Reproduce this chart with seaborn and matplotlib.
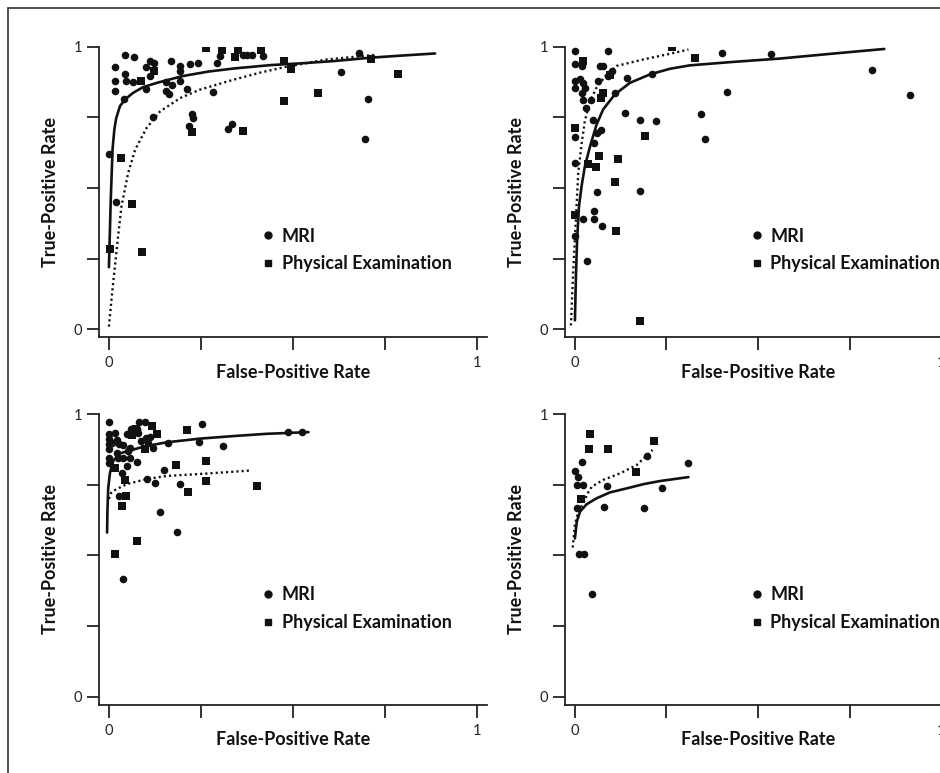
import matplotlib
matplotlib.use("Agg")
import matplotlib.pyplot as plt
from matplotlib.lines import Line2D
import seaborn as sns

# panel A (top left)
a_mri_x = [0.0, 0.020, 0.016, 0.043, 0.069, 0.016, 0.016, 0.043, 0.046, 0.066, 0.042, 0.101,
           0.111, 0.123, 0.111, 0.102, 0.120, 0.155, 0.170, 0.154, 0.163, 0.168, 0.193, 0.193,
           0.193, 0.211, 0.220, 0.241, 0.294, 0.283, 0.302, 0.365, 0.376, 0.388, 0.419, 0.225,
           0.229, 0.218, 0.323, 0.335, 0.680, 0.630, 0.705, 0.696]
a_mri_y = [0.621, 0.451, 0.929, 0.969, 0.965, 0.878, 0.845, 0.905, 0.878, 0.876, 0.816, 0.929,
           0.949, 0.943, 0.896, 0.849, 0.752, 0.875, 0.866, 0.845, 0.831, 0.949, 0.932, 0.914,
           0.880, 0.852, 0.937, 0.941, 0.941, 0.840, 0.967, 0.971, 0.971, 0.971, 0.967, 0.762,
           0.748, 0.721, 0.709, 0.728, 0.979, 0.910, 0.815, 0.673]
a_pe_x = [0.003, 0.033, 0.064, 0.089, 0.087, 0.123, 0.264, 0.306, 0.350, 0.342, 0.413, 0.227,
          0.363, 0.476, 0.495, 0.476, 0.567, 0.712, 0.785]
a_pe_y = [0.286, 0.605, 0.443, 0.272, 0.879, 0.915, 0.995, 0.987, 0.989, 0.963, 0.987, 0.698,
          0.702, 0.951, 0.921, 0.809, 0.836, 0.956, 0.904]
a_mri_curve_x = [0.0, 0.005, 0.010, 0.015, 0.020, 0.030, 0.045, 0.066, 0.093, 0.13, 0.20, 0.27,
                 0.34, 0.44, 0.52, 0.61, 0.71, 0.80, 0.886]
a_mri_curve_y = [0.22, 0.46, 0.64, 0.71, 0.748, 0.79, 0.815, 0.837, 0.857, 0.872, 0.896, 0.912,
                 0.923, 0.935, 0.941, 0.949, 0.961, 0.969, 0.976]
a_pe_curve_x = [0.0, 0.008, 0.016, 0.025, 0.034, 0.052, 0.071, 0.102, 0.139, 0.193, 0.247, 0.338,
                0.41, 0.478, 0.592, 0.723]
a_pe_curve_y = [0.01, 0.12, 0.22, 0.33, 0.434, 0.552, 0.635, 0.712, 0.771, 0.818, 0.848, 0.883,
                0.908, 0.928, 0.955, 0.971]

# panel B (top right)
b_mri_x = [0.000, 0.091, 0.000, 0.018, 0.068, 0.077, 0.000, 0.000, 0.014, 0.023, 0.027, 0.018,
           0.023, 0.044, 0.029, 0.064, 0.091, 0.109, 0.143, 0.211, 0.138, 0.178, 0.222, 0.050,
           0.000, 0.071, 0.059, 0.053, 0.000, 0.060, 0.178, 0.052, 0.051, 0.023, 0.073, 0.000,
           0.034, 0.402, 0.536, 0.810, 0.915, 0.415, 0.344, 0.354, 0.100]
b_mri_y = [0.985, 0.984, 0.937, 0.932, 0.932, 0.932, 0.878, 0.855, 0.884, 0.872, 0.855, 0.837,
           0.813, 0.810, 0.784, 0.878, 0.896, 0.837, 0.890, 0.904, 0.765, 0.739, 0.738, 0.741,
           0.681, 0.706, 0.693, 0.658, 0.590, 0.487, 0.490, 0.418, 0.390, 0.390, 0.365, 0.330,
           0.241, 0.977, 0.974, 0.918, 0.830, 0.839, 0.762, 0.674, 0.914]
b_pe_x = [0.000, 0.021, 0.264, 0.327, 0.076, 0.070, 0.096, 0.191, 0.066, 0.117, 0.036, 0.057,
          0.109, 0.000, 0.111, 0.178]
b_pe_y = [0.714, 0.949, 1.0, 0.960, 0.836, 0.817, 0.901, 0.683, 0.612, 0.602, 0.584, 0.573,
          0.520, 0.403, 0.348, 0.028]
b_mri_curve_x = [0.0, 0.003, 0.006, 0.011, 0.018, 0.027, 0.041, 0.059, 0.077, 0.109, 0.150, 0.205,
                 0.26, 0.314, 0.43, 0.56, 0.70, 0.845]
b_mri_curve_y = [0.032, 0.198, 0.316, 0.434, 0.505, 0.576, 0.646, 0.724, 0.778, 0.831, 0.872, 0.902,
                 0.922, 0.934, 0.946, 0.958, 0.975, 0.992]
b_pe_curve_x = [-0.011, -0.005, 0.002, 0.009, 0.018, 0.027, 0.041, 0.059, 0.087, 0.114, 0.187,
                0.26, 0.31]
b_pe_curve_y = [0.014, 0.198, 0.375, 0.552, 0.654, 0.737, 0.807, 0.855, 0.902, 0.932, 0.955,
                0.975, 0.99]

# panel C (bottom left)
c_mri_x = [0.0, 0.0, 0.0, 0.0, 0.0, 0.0, 0.0, 0.009, 0.016, 0.021, 0.021, 0.025, 0.028, 0.039,
           0.039, 0.048, 0.060, 0.075, 0.062, 0.057, 0.052, 0.057, 0.048, 0.075, 0.035, 0.082,
           0.098, 0.080, 0.087, 0.102, 0.111, 0.107, 0.120, 0.160, 0.245, 0.252, 0.311, 0.487,
           0.524, 0.104, 0.125, 0.149, 0.193, 0.027, 0.140, 0.186, 0.038]
c_mri_y = [0.971, 0.928, 0.913, 0.893, 0.876, 0.843, 0.827, 0.896, 0.932, 0.908, 0.861, 0.843,
           0.893, 0.890, 0.843, 0.928, 0.947, 0.947, 0.932, 0.879, 0.869, 0.843, 0.817, 0.829,
           0.790, 0.971, 0.971, 0.932, 0.905, 0.914, 0.920, 0.896, 0.879, 0.896, 0.900, 0.965,
           0.888, 0.935, 0.935, 0.769, 0.755, 0.802, 0.752, 0.711, 0.653, 0.584, 0.416]
c_pe_x = [0.074, 0.062, 0.118, 0.130, 0.211, 0.097, 0.016, 0.043, 0.046, 0.035, 0.075, 0.016,
          0.182, 0.265, 0.265, 0.215, 0.401]
c_pe_y = [0.946, 0.925, 0.959, 0.929, 0.943, 0.877, 0.810, 0.767, 0.710, 0.676, 0.551, 0.504,
          0.819, 0.833, 0.763, 0.723, 0.746]
c_mri_curve_x = [-0.005, -0.004, -0.002, 0.003, 0.012, 0.030, 0.052, 0.098, 0.157, 0.247, 0.338,
                 0.428, 0.542]
c_mri_curve_y = [0.581, 0.66, 0.737, 0.793, 0.835, 0.861, 0.869, 0.886, 0.900, 0.913, 0.922,
                 0.930, 0.936]
c_pe_curve_x = [0.0, 0.005, 0.016, 0.048, 0.102, 0.157, 0.247, 0.338, 0.381]
c_pe_curve_y = [0.70, 0.72, 0.731, 0.752, 0.770, 0.781, 0.788, 0.796, 0.800]

# panel D (bottom right)
d_mri_x = [0.000, 0.009, 0.019, 0.005, 0.023, 0.005, 0.087, 0.080, 0.196, 0.237, 0.189, 0.308,
           0.012, 0.025, 0.048]
d_mri_y = [0.799, 0.776, 0.829, 0.748, 0.748, 0.668, 0.747, 0.672, 0.853, 0.740, 0.667, 0.826,
           0.505, 0.505, 0.365]
d_pe_x = [0.041, 0.038, 0.089, 0.215, 0.167, 0.016]
d_pe_y = [0.928, 0.875, 0.875, 0.904, 0.794, 0.700]
d_mri_curve_x = [0.0, 0.005, 0.014, 0.032, 0.059, 0.096, 0.141, 0.187, 0.232, 0.310]
d_mri_curve_y = [0.56, 0.619, 0.655, 0.681, 0.702, 0.723, 0.737, 0.752, 0.763, 0.777]
d_pe_curve_x = [-0.006, 0.0, 0.009, 0.023, 0.035, 0.046, 0.077, 0.123, 0.169, 0.212]
d_pe_curve_y = [0.528, 0.608, 0.655, 0.684, 0.72, 0.743, 0.767, 0.790, 0.820, 0.873]

ticks = [0, 0.25, 0.5, 0.75, 1]
tick_labels = ["0", "", "", "", "1"]
legend_labels = ["MRI", "Physical Examination"]

sns.set_style("ticks")
plt.rcParams["font.family"] = ["Lato", "DejaVu Sans"]
INK = "#111111"


def draw_panel(ax, mri_x, mri_y, pe_x, pe_y, mc_x, mc_y, pc_x, pc_y, leg_x, leg_y):
    sns.lineplot(x=mc_x, y=mc_y, ax=ax, sort=False, estimator=None, color=INK,
                 linewidth=1.9, zorder=2)
    sns.lineplot(x=pc_x, y=pc_y, ax=ax, sort=False, estimator=None, color=INK,
                 linewidth=1.7, linestyle=(0, (0.9, 1.3)), zorder=2)
    sns.scatterplot(x=mri_x, y=mri_y, ax=ax, marker="o", s=30, color=INK,
                    edgecolor=INK, linewidth=0, zorder=3)
    sns.scatterplot(x=pe_x, y=pe_y, ax=ax, marker="s", s=30, color=INK,
                    edgecolor=INK, linewidth=0, zorder=3)

    ax.set_xlim(-0.027, 1.027)
    ax.set_ylim(-0.027, 1.0)
    ax.set_xticks(ticks)
    ax.set_xticklabels(tick_labels)
    ax.set_yticks(ticks)
    ax.set_yticklabels(tick_labels)
    ax.tick_params(axis="both", length=9, width=1.3, color="#222222",
                   labelsize=10.5, labelcolor="#222222")
    ax.tick_params(axis="x", pad=5)
    ax.tick_params(axis="y", pad=3)
    for side in ["top", "right"]:
        ax.spines[side].set_visible(False)
    for side in ["left", "bottom"]:
        ax.spines[side].set_linewidth(1.3)
        ax.spines[side].set_color("#222222")
    ax.set_xlabel("False-Positive Rate", fontsize=13, fontweight="bold", color=INK,
                  labelpad=-5)
    ax.set_ylabel("True-Positive Rate", fontsize=13, fontweight="bold", color=INK,
                  labelpad=11)

    handles = [
        Line2D([], [], linestyle="none", marker="o", markersize=5, color=INK),
        Line2D([], [], linestyle="none", marker="s", markersize=5, color=INK),
    ]
    leg = ax.legend(handles, legend_labels, loc="center left", bbox_to_anchor=(leg_x, leg_y),
                    frameon=False, handlelength=0.6, handletextpad=0.45, labelspacing=0.6,
                    prop={"size": 13, "weight": "bold"})
    for t in leg.get_texts():
        t.set_color(INK)


fig = plt.figure(figsize=(9.4, 7.73), dpi=100)
ax_a = fig.add_axes([0.1053, 0.5640, 0.4128, 0.3756])
ax_b = fig.add_axes([0.6011, 0.5640, 0.4106, 0.3756])
ax_c = fig.add_axes([0.1053, 0.0886, 0.4128, 0.3758])
ax_d = fig.add_axes([0.6011, 0.0886, 0.4106, 0.3758])

draw_panel(ax_a, a_mri_x, a_mri_y, a_pe_x, a_pe_y, a_mri_curve_x, a_mri_curve_y,
           a_pe_curve_x, a_pe_curve_y, 0.38, 0.30)
draw_panel(ax_b, b_mri_x, b_mri_y, b_pe_x, b_pe_y, b_mri_curve_x, b_mri_curve_y,
           b_pe_curve_x, b_pe_curve_y, 0.44, 0.30)
draw_panel(ax_c, c_mri_x, c_mri_y, c_pe_x, c_pe_y, c_mri_curve_x, c_mri_curve_y,
           c_pe_curve_x, c_pe_curve_y, 0.38, 0.33)
draw_panel(ax_d, d_mri_x, d_mri_y, d_pe_x, d_pe_y, d_mri_curve_x, d_mri_curve_y,
           d_pe_curve_x, d_pe_curve_y, 0.44, 0.33)

# outer frame (only top and left edges are inside the picture)
fig.add_artist(Line2D([0.0085, 1.0], [0.9896, 0.9896], transform=fig.transFigure,
                      color="#333333", linewidth=1.2))
fig.add_artist(Line2D([0.0085, 0.0085], [0.0, 0.9896], transform=fig.transFigure,
                      color="#333333", linewidth=1.2))

fig.savefig("out.png", dpi=100)
plt.close(fig)
